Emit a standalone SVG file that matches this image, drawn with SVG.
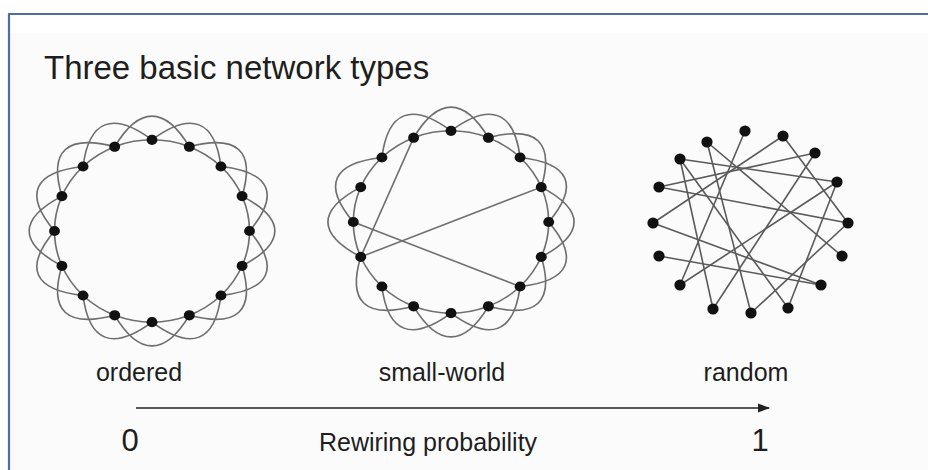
<svg xmlns="http://www.w3.org/2000/svg" xmlns:xlink="http://www.w3.org/1999/xlink" width="928" height="470" viewBox="0 0 928 470">
  <style>
    .ring, .lobes use, .long { fill: none; stroke: #6f6f6f; stroke-width: 1.7; }
    .rnd line { stroke: #5a5a5a; stroke-width: 1.6; }
    .dots { fill: #111; }
    text { font-family: "Liberation Sans", Arial, sans-serif; fill: #1e1e1e; }
    .label { font-size: 25px; text-anchor: middle; }
    .num { font-size: 31px; text-anchor: middle; }
    .axis { stroke: #222; stroke-width: 1.6; fill: none; }
  </style>
  <defs>
    <!-- one outer arc joining node 0 to node 2, in a radius-100 frame -->
    <path id="lobe" d="M0,-100 C40.29,-131.78 64.69,-121.67 70.71,-70.71"/>
    <circle id="dot" cx="0" cy="-100" r="5.6"/>
    <marker id="head" viewBox="0 0 12 10" refX="11" refY="5" markerWidth="12" markerHeight="10" markerUnits="userSpaceOnUse" orient="auto">
      <path d="M0,0.5 L12,5 L0,9.5 z" fill="#222"/>
    </marker>
  </defs>

  <!-- frame -->
  <rect x="0" y="0" width="928" height="470" fill="#ffffff"/>
  <rect x="10" y="33" width="918" height="437" fill="#fbfbfb"/>
  <path d="M9,470 V14 H928" fill="none" stroke="#4f6ea3" stroke-width="2.2"/>

  <text x="44" y="79" font-size="33">Three basic network types</text>

  <!-- regular ring lattice: every node linked to its two nearest neighbours on each side -->
  <g id="ordered" transform="translate(152,231) scale(0.975,0.912)">
    <g class="links">
      <circle class="ring" r="100"/>
      <g class="lobes">
        <use href="#lobe"/>
        <use href="#lobe" transform="rotate(22.5)"/>
        <use href="#lobe" transform="rotate(45)"/>
        <use href="#lobe" transform="rotate(67.5)"/>
        <use href="#lobe" transform="rotate(90)"/>
        <use href="#lobe" transform="rotate(112.5)"/>
        <use href="#lobe" transform="rotate(135)"/>
        <use href="#lobe" transform="rotate(157.5)"/>
        <use href="#lobe" transform="rotate(180)"/>
        <use href="#lobe" transform="rotate(202.5)"/>
        <use href="#lobe" transform="rotate(225)"/>
        <use href="#lobe" transform="rotate(247.5)"/>
        <use href="#lobe" transform="rotate(270)"/>
        <use href="#lobe" transform="rotate(292.5)"/>
        <use href="#lobe" transform="rotate(315)"/>
        <use href="#lobe" transform="rotate(337.5)"/>
      </g>
    </g>
    <g class="dots">
      <use href="#dot"/>
      <use href="#dot" transform="rotate(22.5)"/>
      <use href="#dot" transform="rotate(45)"/>
      <use href="#dot" transform="rotate(67.5)"/>
      <use href="#dot" transform="rotate(90)"/>
      <use href="#dot" transform="rotate(112.5)"/>
      <use href="#dot" transform="rotate(135)"/>
      <use href="#dot" transform="rotate(157.5)"/>
      <use href="#dot" transform="rotate(180)"/>
      <use href="#dot" transform="rotate(202.5)"/>
      <use href="#dot" transform="rotate(225)"/>
      <use href="#dot" transform="rotate(247.5)"/>
      <use href="#dot" transform="rotate(270)"/>
      <use href="#dot" transform="rotate(292.5)"/>
      <use href="#dot" transform="rotate(315)"/>
      <use href="#dot" transform="rotate(337.5)"/>
    </g>
  </g>

  <!-- same lattice with a few links rewired into long shortcuts -->
  <g id="small-world" transform="translate(451,222) scale(0.977,0.912)">
    <g class="links">
      <circle class="ring" r="100"/>
      <g class="lobes">
        <use href="#lobe"/>
        <use href="#lobe" transform="rotate(22.5)"/>
        <use href="#lobe" transform="rotate(45)"/>
        <use href="#lobe" transform="rotate(67.5)"/>
        <use href="#lobe" transform="rotate(90)"/>
        <use href="#lobe" transform="rotate(112.5)"/>
        <use href="#lobe" transform="rotate(135)"/>
        <use href="#lobe" transform="rotate(157.5)"/>
        <use href="#lobe" transform="rotate(180)"/>
        <use href="#lobe" transform="rotate(202.5)"/>
        <use href="#lobe" transform="rotate(247.5)"/>
        <use href="#lobe" transform="rotate(270)"/>
        <use href="#lobe" transform="rotate(315)"/>
        <use href="#lobe" transform="rotate(337.5)"/>
      </g>
      <g class="long">
        <line x1="-38.27" y1="-92.39" x2="-92.39" y2="38.27"/>
        <line x1="92.39" y1="-38.27" x2="-92.39" y2="38.27"/>
        <line x1="-100" y1="0" x2="70.71" y2="70.71"/>
      </g>
    </g>
    <g class="dots">
      <use href="#dot"/>
      <use href="#dot" transform="rotate(22.5)"/>
      <use href="#dot" transform="rotate(45)"/>
      <use href="#dot" transform="rotate(67.5)"/>
      <use href="#dot" transform="rotate(90)"/>
      <use href="#dot" transform="rotate(112.5)"/>
      <use href="#dot" transform="rotate(135)"/>
      <use href="#dot" transform="rotate(157.5)"/>
      <use href="#dot" transform="rotate(180)"/>
      <use href="#dot" transform="rotate(202.5)"/>
      <use href="#dot" transform="rotate(225)"/>
      <use href="#dot" transform="rotate(247.5)"/>
      <use href="#dot" transform="rotate(270)"/>
      <use href="#dot" transform="rotate(292.5)"/>
      <use href="#dot" transform="rotate(315)"/>
      <use href="#dot" transform="rotate(337.5)"/>
    </g>
  </g>

  <!-- fully random links -->
  <g id="random">
    <g class="rnd">
      <line x1="745" y1="131" x2="680" y2="285"/>
      <line x1="783" y1="136" x2="653" y2="223"/>
      <line x1="783" y1="136" x2="848" y2="223"/>
      <line x1="815" y1="153" x2="659" y2="187"/>
      <line x1="815" y1="153" x2="713" y2="309"/>
      <line x1="837" y1="182" x2="680" y2="159"/>
      <line x1="837" y1="182" x2="680" y2="285"/>
      <line x1="837" y1="182" x2="788" y2="308"/>
      <line x1="848" y1="223" x2="659" y2="187"/>
      <line x1="842" y1="256" x2="707" y2="142"/>
      <line x1="821" y1="285" x2="659" y2="256"/>
      <line x1="821" y1="285" x2="653" y2="223"/>
      <line x1="751" y1="313" x2="707" y2="142"/>
      <line x1="713" y1="309" x2="680" y2="159"/>
      <line x1="788" y1="308" x2="680" y2="159"/>
      <line x1="751" y1="313" x2="848" y2="223"/>
    </g>
    <g class="dots">
      <circle cx="745" cy="131" r="5.6"/>
      <circle cx="783" cy="136" r="5.6"/>
      <circle cx="815" cy="153" r="5.6"/>
      <circle cx="837" cy="182" r="5.6"/>
      <circle cx="848" cy="223" r="5.6"/>
      <circle cx="842" cy="256" r="5.6"/>
      <circle cx="821" cy="285" r="5.6"/>
      <circle cx="788" cy="308" r="5.6"/>
      <circle cx="751" cy="313" r="5.6"/>
      <circle cx="713" cy="309" r="5.6"/>
      <circle cx="680" cy="285" r="5.6"/>
      <circle cx="659" cy="256" r="5.6"/>
      <circle cx="653" cy="223" r="5.6"/>
      <circle cx="659" cy="187" r="5.6"/>
      <circle cx="680" cy="159" r="5.6"/>
      <circle cx="707" cy="142" r="5.6"/>
    </g>
  </g>

  <g id="labels">
    <text class="label" x="139" y="381">ordered</text>
    <text class="label" x="442" y="381">small-world</text>
    <text class="label" x="746" y="381">random</text>
  </g>

  <!-- rewiring probability axis -->
  <g id="connectors">
    <line class="axis" x1="136" y1="408" x2="769" y2="408" marker-end="url(#head)"/>
  </g>
  <g id="axis-labels">
    <text class="num" x="130" y="451">0</text>
    <text class="label" x="428" y="451">Rewiring probability</text>
    <text class="num" x="760" y="451">1</text>
  </g>
</svg>
